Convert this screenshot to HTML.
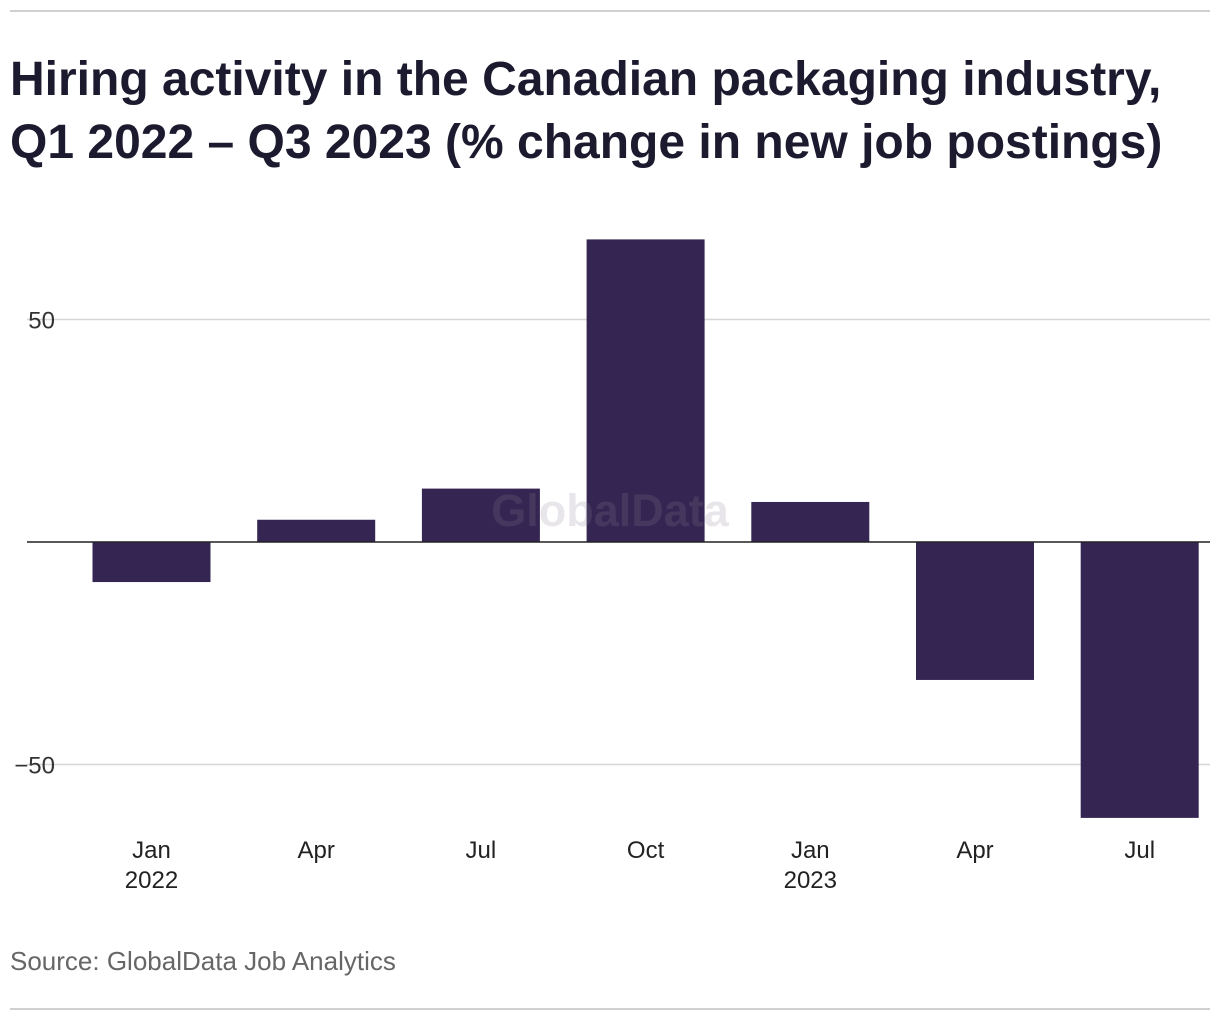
<!DOCTYPE html>
<html><head><meta charset="utf-8"><style>
body{margin:0;background:#fff;width:1220px;height:1020px;overflow:hidden;font-family:"Liberation Sans",sans-serif}
</style></head><body>
<svg width="1220" height="1020">
<line x1="10" y1="11" x2="1210" y2="11" stroke="#d0d0d0" stroke-width="2"/>
<text x="10" y="95" font-size="48" font-weight="bold" fill="#1c1a2e">Hiring activity in the Canadian packaging industry,</text>
<text x="10" y="158" font-size="48" font-weight="bold" fill="#1c1a2e">Q1 2022 – Q3 2023 (% change in new job postings)</text>
<g id="grid"></g>
<g id="bars"></g>
<text x="610" y="526" font-size="45" font-weight="bold" fill="#8a8494" fill-opacity="0.2" text-anchor="middle">GlobalData</text>
<line x1="27" y1="542" x2="1210" y2="542" stroke="#222" stroke-width="1.5"/>
<g id="xl"></g>
<text x="10" y="970" font-size="26" fill="#666">Source: GlobalData Job Analytics</text>
<line x1="10" y1="1009" x2="1210" y2="1009" stroke="#d0d0d0" stroke-width="2"/>
</svg>
<script>
const categories=["Jan","Apr","Jul","Oct","Jan","Apr","Jul"];
const years=["2022","","","","2023","",""];
const values=[-9,5,12,68,9,-31,-62];
const ticks=[50,-50];
const tickLabels=["50","−50"];
const NS="http://www.w3.org/2000/svg";
const y=v=>542-v*4.45;
const x=i=>151.5+i*164.7;
function mk(t,a,p){const e=document.createElementNS(NS,t);for(const k in a)e.setAttribute(k,a[k]);p.appendChild(e);return e;}
const g=document.getElementById('grid');
ticks.forEach((t,i)=>{
 const l=mk('line',{x1:27,x2:1210,y1:y(t),y2:y(t),stroke:'#d6d6d6','stroke-width':1.5},g);
 
 
 const tx=mk('text',{x:55,y:y(t)+9,'font-size':24,fill:'#333','text-anchor':'end'},g);
 tx.textContent=tickLabels[i];
 
 
});
const b=document.getElementById('bars'),xl=document.getElementById('xl');
values.forEach((v,i)=>{
 const r=mk('rect',{x:x(i)-59,width:118,y:Math.min(y(v),542),height:Math.abs(y(v)-542),fill:'#352552'},b);
 
 
 const t=mk('text',{x:x(i),y:858,'font-size':24,fill:'#222','text-anchor':'middle'},xl);
 t.textContent=categories[i];
 
 
 if(years[i]){const t2=mk('text',{x:x(i),y:888,'font-size':24,fill:'#222','text-anchor':'middle'},xl);
 t2.textContent=years[i];
 
 }
});
</script>
</body></html>
